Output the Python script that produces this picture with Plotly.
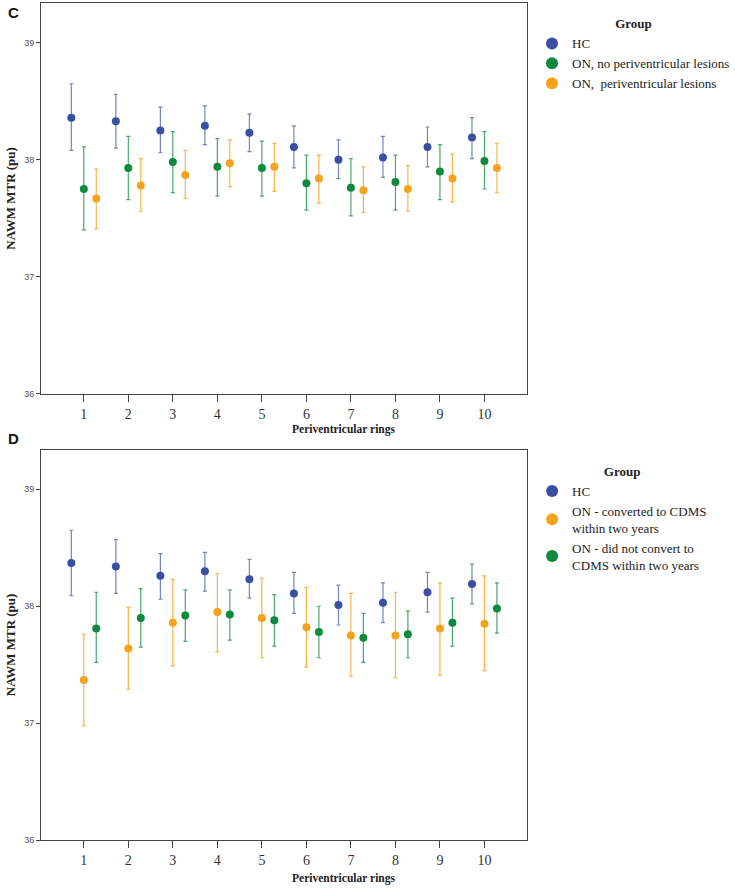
import numpy as np
import plotly.graph_objects as go

# Data: mean NAWM MTR (pu) with 95% CI per periventricular ring
rings = [1, 2, 3, 4, 5, 6, 7, 8, 9, 10]

# Panel C
c_hc_mean = [38.36, 38.33, 38.25, 38.29, 38.23, 38.11, 38.00, 38.02, 38.11, 38.19]
c_hc_lo = [38.08, 38.10, 38.06, 38.13, 38.07, 37.93, 37.84, 37.85, 37.94, 38.01]
c_hc_hi = [38.65, 38.56, 38.45, 38.46, 38.39, 38.29, 38.17, 38.20, 38.28, 38.36]

c_nopv_mean = [37.75, 37.93, 37.98, 37.94, 37.93, 37.80, 37.76, 37.81, 37.90, 37.99]
c_nopv_lo = [37.40, 37.66, 37.72, 37.69, 37.69, 37.57, 37.52, 37.57, 37.66, 37.75]
c_nopv_hi = [38.11, 38.20, 38.24, 38.18, 38.16, 38.04, 38.01, 38.04, 38.13, 38.24]

c_pv_mean = [37.67, 37.78, 37.87, 37.97, 37.94, 37.84, 37.74, 37.75, 37.84, 37.93]
c_pv_lo = [37.41, 37.56, 37.67, 37.77, 37.73, 37.63, 37.55, 37.56, 37.64, 37.72]
c_pv_hi = [37.92, 38.01, 38.08, 38.17, 38.14, 38.04, 37.94, 37.95, 38.05, 38.14]

# Panel D
d_hc_mean = [38.37, 38.34, 38.26, 38.30, 38.23, 38.11, 38.01, 38.03, 38.12, 38.19]
d_hc_lo = [38.09, 38.11, 38.06, 38.13, 38.07, 37.94, 37.84, 37.86, 37.95, 38.02]
d_hc_hi = [38.65, 38.57, 38.45, 38.46, 38.40, 38.29, 38.18, 38.20, 38.29, 38.36]

d_conv_mean = [37.37, 37.64, 37.86, 37.95, 37.90, 37.82, 37.75, 37.75, 37.81, 37.85]
d_conv_lo = [36.98, 37.29, 37.49, 37.61, 37.56, 37.48, 37.40, 37.39, 37.41, 37.45]
d_conv_hi = [37.76, 37.99, 38.23, 38.28, 38.24, 38.16, 38.11, 38.12, 38.20, 38.26]

d_noconv_mean = [37.81, 37.90, 37.92, 37.93, 37.88, 37.78, 37.73, 37.76, 37.86, 37.98]
d_noconv_lo = [37.52, 37.65, 37.70, 37.71, 37.66, 37.56, 37.52, 37.56, 37.66, 37.77]
d_noconv_hi = [38.12, 38.15, 38.14, 38.14, 38.10, 38.00, 37.94, 37.96, 38.07, 38.20]

BLUE = '#3B4FA2'
GREEN = '#0E8A3F'
ORANGE = '#F5A21C'
BLUE_E = 'rgba(59,79,162,0.7)'
GREEN_E = 'rgba(14,138,63,0.75)'
ORANGE_E = 'rgba(245,162,28,0.8)'

r = np.array(rings, dtype=float)


def ci_trace(xs, mean, lo, hi, color, ecolor, name, legend, xaxis, yaxis):
    mean = np.array(mean)
    return go.Scatter(x=xs, y=mean, mode='markers', name=name, legend=legend,
                      xaxis=xaxis, yaxis=yaxis,
                      marker=dict(color=color, size=8),
                      error_y=dict(type='data', symmetric=False,
                                   array=np.array(hi) - mean, arrayminus=mean - np.array(lo),
                                   color=ecolor, thickness=1.2, width=2))


fig = go.Figure()
# panel C (top)
fig.add_trace(ci_trace(r - 0.28, c_hc_mean, c_hc_lo, c_hc_hi, BLUE, BLUE_E, 'HC', 'legend', 'x', 'y'))
fig.add_trace(ci_trace(r, c_nopv_mean, c_nopv_lo, c_nopv_hi, GREEN, GREEN_E,
                       'ON, no periventricular lesions', 'legend', 'x', 'y'))
fig.add_trace(ci_trace(r + 0.28, c_pv_mean, c_pv_lo, c_pv_hi, ORANGE, ORANGE_E,
                       'ON,  periventricular lesions', 'legend', 'x', 'y'))
# panel D (bottom)
fig.add_trace(ci_trace(r - 0.28, d_hc_mean, d_hc_lo, d_hc_hi, BLUE, BLUE_E, 'HC', 'legend2', 'x2', 'y2'))
fig.add_trace(ci_trace(r, d_conv_mean, d_conv_lo, d_conv_hi, ORANGE, ORANGE_E,
                       'ON - converted to CDMS<br>within two years', 'legend2', 'x2', 'y2'))
fig.add_trace(ci_trace(r + 0.28, d_noconv_mean, d_noconv_lo, d_noconv_hi, GREEN, GREEN_E,
                       'ON - did not convert to<br>CDMS within two years', 'legend2', 'x2', 'y2'))

serif = 'Liberation Serif, Times New Roman, serif'
sans = 'Liberation Sans, Arial, sans-serif'

xcommon = dict(range=[0.04, 10.96], tickvals=rings, ticks='outside', ticklen=7, tickcolor='#444',
               showline=True, linecolor='#444', linewidth=1, mirror=True, showgrid=False, zeroline=False,
               tickfont=dict(family=serif, size=14, color='#333'))
ycommon = dict(range=[36, 39.34], tickvals=[36, 37, 38, 39], ticks='outside', ticklen=4, tickcolor='#444',
               showline=True, linecolor='#444', linewidth=1, mirror=True, showgrid=False, zeroline=False,
               tickfont=dict(family=sans, size=9, color='#555'),
               title=dict(text='<b>NAWM MTR (pu)</b>', font=dict(family=serif, size=13, color='#222'),
                          standoff=5))
legend_common = dict(xanchor='left', yanchor='top', itemsizing='constant', tracegroupgap=0,
                     font=dict(family=serif, size=13, color='#222'),
                     title=dict(text='<b>Group</b>', side='top center', font=dict(family=serif, size=13)))

fig.update_layout(
    width=735, height=893, margin=dict(l=0, r=0, t=0, b=0),
    paper_bgcolor='white', plot_bgcolor='white',
    xaxis=dict(domain=[0.0585, 0.751], anchor='y', **xcommon),
    yaxis=dict(domain=[0.5566, 0.9966], anchor='x', **ycommon),
    xaxis2=dict(domain=[0.0585, 0.751], anchor='y2', **xcommon),
    yaxis2=dict(domain=[0.0538, 0.4938], anchor='x2', **ycommon),
    legend=dict(x=0.758, y=0.987, **legend_common),
    legend2=dict(x=0.758, y=0.483, **legend_common),
)

# x titles sit right of centre in the original, so they are annotations
xtitle_font = dict(family=serif, size=11.5, color='#222')
fig.add_annotation(x=6.84, y=0.5162, xref='x', yref='paper', text='<b>Periventricular rings</b>',
                   showarrow=False, xanchor='center', yanchor='middle', font=xtitle_font)
fig.add_annotation(x=6.84, y=0.0112, xref='x2', yref='paper', text='<b>Periventricular rings</b>',
                   showarrow=False, xanchor='center', yanchor='middle', font=xtitle_font)

# panel letters
fig.add_annotation(x=0.009, y=0.986, xref='paper', yref='paper', text='<b>C</b>', showarrow=False,
                   xanchor='left', yanchor='middle', font=dict(family=sans, size=15, color='#111'))
fig.add_annotation(x=0.009, y=0.506, xref='paper', yref='paper', text='<b>D</b>', showarrow=False,
                   xanchor='left', yanchor='middle', font=dict(family=sans, size=15, color='#111'))

fig.write_html('out.html', config={'displayModeBar': False},
               post_script="document.body.style.margin='0';")
